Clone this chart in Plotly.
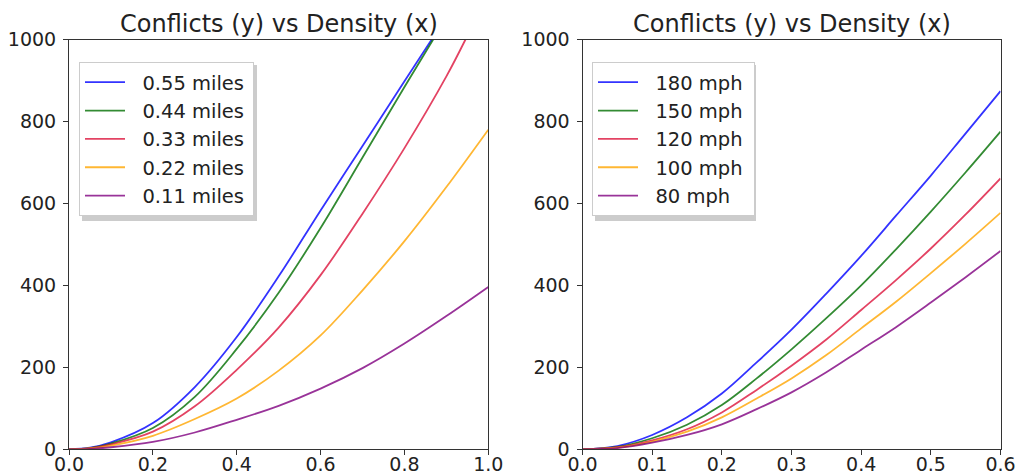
import plotly.graph_objects as go

# ---------------- data ----------------
title_text = "Conflicts (y) vs Density (x)"

# Left panel: by distance
dist_labels = ["0.55 miles", "0.44 miles", "0.33 miles", "0.22 miles", "0.11 miles"]
x_055 = [0, 0.05, 0.1, 0.2, 0.3, 0.4, 0.5, 0.6, 0.7, 0.8, 0.865]
y_055 = [0, 4, 17, 64, 152, 274, 422, 583, 740, 898, 1000]
x_044 = [0, 0.05, 0.1, 0.2, 0.3, 0.4, 0.5, 0.6, 0.7, 0.8, 0.8685]
y_044 = [0, 3, 14, 52, 128, 245, 382, 540, 712, 884, 1000]
x_033 = [0, 0.05, 0.1, 0.2, 0.3, 0.4, 0.5, 0.6, 0.7, 0.8, 0.9, 0.9456]
y_033 = [0, 3, 12, 43, 105, 194, 297, 425, 575, 735, 910, 1000]
x_022 = [0, 0.05, 0.1, 0.2, 0.3, 0.4, 0.5, 0.6, 0.7, 0.8, 0.9, 1.0]
y_022 = [0, 2, 9, 33, 74, 124, 192, 278, 388, 508, 640, 780]
x_011 = [0, 0.05, 0.1, 0.2, 0.3, 0.4, 0.5, 0.6, 0.7, 0.8, 0.9, 1.0]
y_011 = [0, 1, 5, 18, 41, 72, 106, 148, 198, 258, 325, 396]

# Right panel: by speed
speed_labels = ["180 mph", "150 mph", "120 mph", "100 mph", "80 mph"]
x_speed = [0, 0.05, 0.1, 0.15, 0.2, 0.25, 0.3, 0.35, 0.4, 0.45, 0.5, 0.55, 0.6]
y_180 = [0, 8, 35, 78, 136, 212, 292, 380, 472, 570, 668, 771, 874]
y_150 = [0, 6, 27, 60, 108, 173, 244, 320, 400, 488, 580, 676, 775]
y_120 = [0, 5, 22, 49, 90, 145, 204, 268, 340, 413, 490, 573, 661]
y_100 = [0, 4, 19, 43, 78, 124, 173, 230, 295, 360, 430, 502, 577]
y_080 = [0, 3, 16, 35, 61, 98, 139, 188, 243, 298, 358, 420, 484]

left_x_ticks = [0.0, 0.2, 0.4, 0.6, 0.8, 1.0]
right_x_ticks = [0.0, 0.1, 0.2, 0.3, 0.4, 0.5, 0.6]
y_ticks = [0, 200, 400, 600, 800, 1000]

colors = ["rgba(0,0,255,0.8)", "rgba(0,110,0,0.8)", "rgba(220,20,60,0.8)",
          "rgba(255,165,0,0.8)", "rgba(128,0,128,0.8)"]

# ---------------- figure ----------------
W, H = 1016, 474
fig = go.Figure()
NB = "\u00a0"
THIN = "\u2009"

left_series = [(x_055, y_055), (x_044, y_044), (x_033, y_033), (x_022, y_022), (x_011, y_011)]
for (xs, ys), name, c in zip(left_series, dist_labels, colors):
    fig.add_trace(go.Scatter(x=xs, y=ys, mode="lines", name=NB * 2 + name + THIN,
                             line=dict(color=c, width=1.8, shape="spline", smoothing=1.0),
                             xaxis="x", yaxis="y", legend="legend"))

right_series = [y_180, y_150, y_120, y_100, y_080]
for ys, name, c in zip(right_series, speed_labels, colors):
    fig.add_trace(go.Scatter(x=x_speed, y=ys, mode="lines", name=NB * 2 + name + NB,
                             line=dict(color=c, width=1.8, shape="spline", smoothing=1.0),
                             xaxis="x2", yaxis="y2", legend="legend2"))

def px_x(p):
    return p / W

def px_y(p):
    return 1 - p / H

plot_top, plot_bot = 39.5, 449.3
ydom = [px_y(plot_bot), px_y(plot_top)]
left_dom = [px_x(69), px_x(488.3)]
right_dom = [px_x(582.5), px_x(1000.5)]

axis_common = dict(showline=True, mirror=True, linecolor="#333333", linewidth=1,
                   ticks="outside", ticklen=5, tickwidth=1, tickcolor="#333333",
                   showgrid=False, zeroline=False,
                   tickfont=dict(family="DejaVu Sans", size=19, color="#222222"),
                   automargin=False)

leg_top = 62
fig.update_layout(
    width=W, height=H,
    margin=dict(l=0, r=0, t=0, b=0),
    paper_bgcolor="white", plot_bgcolor="white",
    font=dict(family="DejaVu Sans", color="#222222"),
    xaxis=dict(domain=left_dom, range=[0, 1.0], tickvals=left_x_ticks,
               tickformat=".1f", anchor="y", ticklabelstandoff=-7, **axis_common),
    yaxis=dict(domain=ydom, range=[0, 1000], tickvals=y_ticks, anchor="x",
               ticklabelstandoff=3, **axis_common),
    xaxis2=dict(domain=right_dom, range=[0, 0.6], tickvals=right_x_ticks,
                tickformat=".1f", anchor="y2", ticklabelstandoff=-7, **axis_common),
    yaxis2=dict(domain=ydom, range=[0, 1000], tickvals=y_ticks, anchor="x2",
                ticklabelstandoff=3, **axis_common),
    legend=dict(x=px_x(79), y=px_y(leg_top), xanchor="left", yanchor="top",
                bgcolor="white", bordercolor="#cccccc", borderwidth=1,
                font=dict(family="DejaVu Sans", size=19.5, color="#222222"),
                itemwidth=40, tracegroupgap=0),
    legend2=dict(x=px_x(592), y=px_y(leg_top), xanchor="left", yanchor="top",
                 bgcolor="white", bordercolor="#cccccc", borderwidth=1,
                 font=dict(family="DejaVu Sans", size=19.5, color="#222222"),
                 itemwidth=40, tracegroupgap=0),
    showlegend=True,
)

# legend drop shadows (drawn under the legend boxes)
for x0, x1 in ((79, 254), (592, 753)):
    fig.add_shape(type="rect", xref="paper", yref="paper", layer="above",
                  x0=px_x(x0 + 3), x1=px_x(x1 + 3), y0=px_y(218 + 3), y1=px_y(leg_top + 3),
                  line=dict(width=0), fillcolor="rgba(0,0,0,0.2)")

# titles
for dom in (left_dom, right_dom):
    fig.add_annotation(text=title_text, xref="paper", yref="paper",
                       x=(dom[0] + dom[1]) / 2, y=px_y(plot_top + 1),
                       xanchor="center", yanchor="bottom", showarrow=False,
                       font=dict(family="DejaVu Sans", size=24, color="#222222"))

fig.write_html("out.html")
